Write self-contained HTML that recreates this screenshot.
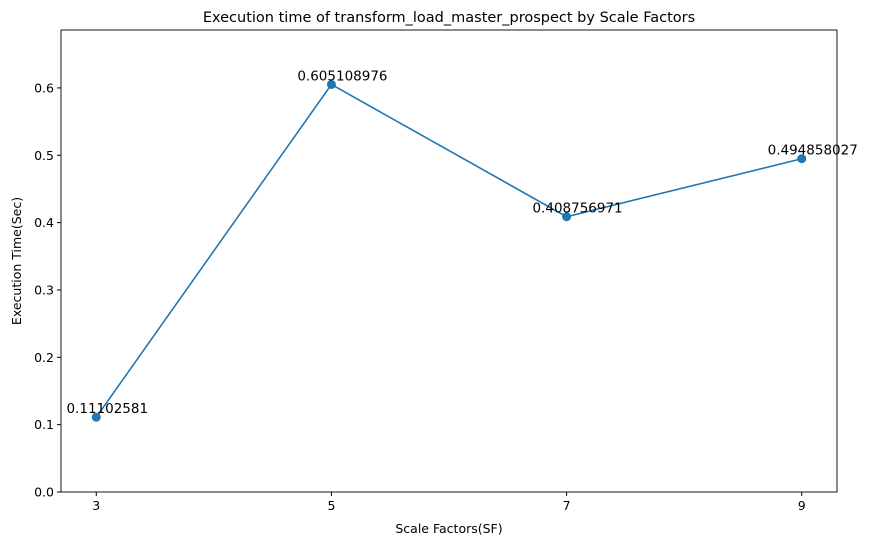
<!DOCTYPE html>
<html><head><meta charset="utf-8"><style>
body{margin:0;background:#fff;font-family:"Liberation Sans","DejaVu Sans",sans-serif}
svg text{font-family:"DejaVu Sans","Liberation Sans",sans-serif}
</style></head><body>
<svg id="chart" width="869" height="545">
</svg>
<script>
const categories=[3,5,7,9];
const values=[0.11102581,0.605108976,0.408756971,0.494858027];
const labels=["0.11102581","0.605108976","0.408756971","0.494858027"];
const yTicks=[0,0.1,0.2,0.3,0.4,0.5,0.6];
const yTickLabels=["0.0","0.1","0.2","0.3","0.4","0.5","0.6"];
const L=61,R=837,T=30,B=492;
const xMin=2.7,xMax=9.3,yMin=0,yMax=0.686;
const xs=v=>L+(v-xMin)/(xMax-xMin)*(R-L);
const ys=v=>B-(v-yMin)/(yMax-yMin)*(B-T);
const svg=document.getElementById('chart');
const NS='http://www.w3.org/2000/svg';
function mk(tag,attrs,parent){const e=document.createElementNS(NS,tag);for(const k in attrs)e.setAttribute(k,attrs[k]);(parent||svg).appendChild(e);return e;}
let t=mk('text',{x:(L+R)/2,y:22,'text-anchor':'middle','font-size':14.5});t.textContent='Execution time of transform_load_master_prospect by Scale Factors';


let frame=mk('rect',{x:L,y:T,width:R-L,height:B-T,fill:'none',stroke:'#000','stroke-width':0.9});


yTicks.forEach((v,i)=>{const y=ys(v);mk('line',{x1:L-4,x2:L,y1:y,y2:y,stroke:'#000'});
const tx=mk('text',{x:L-7,y:y+4.5,'text-anchor':'end','font-size':12.5});tx.textContent=yTickLabels[i];

});
categories.forEach(c=>{const x=xs(c);mk('line',{x1:x,x2:x,y1:B,y2:B+4,stroke:'#000'});
const tx=mk('text',{x:x,y:B+18,'text-anchor':'middle','font-size':12.5});tx.textContent=c;

});
let xl=mk('text',{x:(L+R)/2,y:533,'text-anchor':'middle','font-size':12.5});xl.textContent='Scale Factors(SF)';


let yl=mk('text',{x:0,y:0,'text-anchor':'middle','font-size':12.5,transform:`translate(21,${(T+B)/2}) rotate(-90)`});yl.textContent='Execution Time(Sec)';


let line=mk('polyline',{points:categories.map((c,i)=>xs(c)+','+ys(values[i])).join(' '),fill:'none',stroke:'#1f77b4','stroke-width':1.6});


categories.forEach((c,i)=>{const p=mk('circle',{cx:xs(c),cy:ys(values[i]),r:4.5,fill:'#1f77b4'});


const tx=mk('text',{x:xs(c)+11,y:ys(values[i])-4,'text-anchor':'middle','font-size':13.5});tx.textContent=labels[i];

});
</script>
</body></html>
